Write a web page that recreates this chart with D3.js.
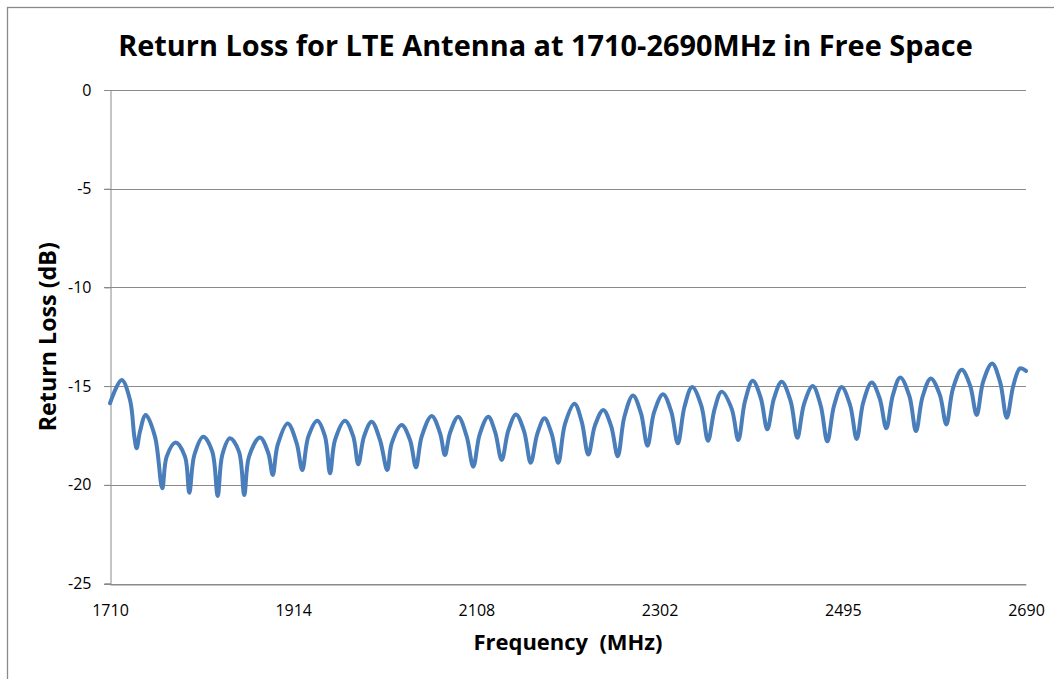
<!DOCTYPE html>
<html>
<head>
<meta charset="utf-8">
<script src="https://cdn.jsdelivr.net/npm/d3@7"></script>
<style>
  html, body { margin: 0; padding: 0; background: #fff; }
  svg { display: block; }
  text { font-family: 'Open Sans', 'Liberation Sans', sans-serif; fill: #000; }
</style>
</head>
<body>
<div id="chart"></div>
<script>
// readings taken off the measured curve (MHz, dB)
const freqMHz = [
  1710, 1723.0, 1732.3, 1737.1, 1739.7, 1743.4, 1749.8, 1760.1, 1768.2, 1773.1,
  1783.2, 1793.5, 1798.3, 1803.9, 1813.9, 1823.9, 1829.9, 1835.0, 1843.6, 1853.6,
  1859.5, 1864.8, 1877.0, 1886.3, 1891.2, 1896.7, 1907.9, 1917.7, 1923.6, 1930.0,
  1939.5, 1947.7, 1953.0, 1958.3, 1968.9, 1977.6, 1982.9, 1989.0, 1997.1, 2005.9,
  2013.6, 2018.3, 2028.9, 2037.7, 2044.0, 2050.1, 2060.7, 2069.5, 2074.7, 2080.0,
  2088.8, 2097.7, 2104.7, 2111.5, 2120.6, 2127.8, 2134.8, 2141.8, 2149.9, 2158.5,
  2165.5, 2172.5, 2180.1, 2187.7, 2194.7, 2201.7, 2211.9, 2219.5, 2226.5, 2233.5,
  2242.4, 2250.7, 2257.7, 2264.7, 2273.8, 2282.2, 2289.2, 2296.2, 2305.6, 2314.2,
  2321.2, 2328.2, 2336.3, 2346.0, 2353.0, 2360.0, 2367.4, 2377.9, 2384.9, 2391.9,
  2400.1, 2408.5, 2415.5, 2422.5, 2430.6, 2440.1, 2447.1, 2454.1, 2463.3, 2471.7,
  2478.7, 2485.7, 2493.8, 2502.8, 2509.8, 2516.8, 2525.8, 2534.3, 2541.3, 2548.3,
  2556.2, 2565.9, 2572.9, 2579.9, 2588.7, 2598.2, 2605.2, 2612.2, 2621.6, 2630.5,
  2637.5, 2644.5, 2654.0, 2662.5, 2669.5, 2676.5, 2683.6, 2690
];
const returnLossDb = [
  -15.87, -14.69, -15.7, -17.56, -18.15, -17.3, -16.46, -17.56, -20.18, -18.57,
  -17.86, -18.57, -20.4, -18.49, -17.56, -18.32, -20.57, -18.49, -17.64, -18.32,
  -20.52, -18.57, -17.6, -18.4, -19.5, -17.98, -16.89, -17.9, -19.25, -17.56,
  -16.75, -17.55, -19.42, -17.73, -16.75, -17.55, -18.96, -17.55, -16.8, -17.73,
  -19.25, -17.9, -16.97, -17.73, -19.11, -17.55, -16.51, -17.38, -18.49, -17.38,
  -16.55, -17.55, -19.08, -17.44, -16.55, -17.32, -18.74, -17.25, -16.44, -17.29,
  -18.88, -17.42, -16.63, -17.42, -18.88, -16.94, -15.9, -16.8, -18.47, -17.0,
  -16.21, -17.03, -18.55, -16.55, -15.47, -16.36, -18.02, -16.32, -15.41, -16.28,
  -17.9, -16.05, -15.05, -16.0, -17.77, -16.15, -15.28, -16.14, -17.73, -15.78,
  -14.73, -15.59, -17.19, -15.62, -14.78, -15.77, -17.62, -15.92, -15.0, -15.98,
  -17.8, -16.01, -15.05, -15.97, -17.68, -15.82, -14.82, -15.63, -17.14, -15.46,
  -14.56, -15.51, -17.28, -15.54, -14.61, -15.43, -16.94, -15.14, -14.17, -14.97,
  -16.46, -14.76, -13.85, -14.81, -16.6, -14.98, -14.1, -14.23
];
const xTickLabels = [1710, 1914, 2108, 2302, 2495, 2690];
const yTicks = [0, -5, -10, -15, -20, -25];

const W = 1054, H = 679;
const plot = { left: 110, right: 1026, top: 90, bottom: 583.5 };
const GRID = '#8a8a8a';
const LINE = '#4a7ebb';

const svg = d3.select('#chart').append('svg')
  .attr('width', W)
  .attr('height', H);

svg.append('rect')
  .attr('width', W).attr('height', H)
  .attr('fill', '#fff');

// chart frame, runs off the right and bottom edge like the original
svg.append('rect')
  .attr('x', 7.5).attr('y', 7.5)
  .attr('width', W + 20).attr('height', H + 20)
  .attr('fill', 'none')
  .attr('stroke', GRID)
  .attr('stroke-width', 1.3);

// category style axis: labels are evenly spaced, so map piecewise
const step = (plot.right - plot.left) / (xTickLabels.length - 1);
const x = d3.scaleLinear()
  .domain(xTickLabels)
  .range(xTickLabels.map((d, i) => plot.left + i * step));

const y = d3.scaleLinear()
  .domain([-25, 0])
  .range([plot.bottom, plot.top]);

// gridlines
svg.append('g')
  .selectAll('line')
  .data(yTicks)
  .join('line')
  .attr('x1', plot.left - 6)
  .attr('x2', plot.right)
  .attr('y1', d => Math.round(y(d)) + 0.5)
  .attr('y2', d => Math.round(y(d)) + 0.5)
  .attr('stroke', GRID)
  .attr('stroke-width', 1);

// y axis
const yAxis = svg.append('g')
  .attr('transform', `translate(${plot.left + 0.5},0)`)
  .call(d3.axisLeft(y)
    .tickValues(yTicks)
    .tickSize(6)
    .tickPadding(13)
    .tickFormat(d => String(d)));
yAxis.select('.domain').attr('stroke', GRID);
yAxis.selectAll('.tick line').attr('stroke', GRID);
yAxis.selectAll('.tick text').style('font-size', '16px');
yAxis.attr('font-family', null);

// x axis
const xAxis = svg.append('g')
  .attr('transform', `translate(0,${Math.round(plot.bottom) + 0.5})`)
  .call(d3.axisBottom(x)
    .tickValues(xTickLabels)
    .tickSize(0)
    .tickPadding(20)
    .tickFormat(d => String(d)));
xAxis.select('.domain').attr('stroke', GRID);
xAxis.selectAll('.tick text').style('font-size', '16px');
xAxis.attr('font-family', null);

// curve
const line = d3.line()
  .x((d, i) => x(freqMHz[i]))
  .y(d => y(d))
  .curve(d3.curveCatmullRom.alpha(0.5));

svg.append('path')
  .datum(returnLossDb)
  .attr('d', line)
  .attr('fill', 'none')
  .attr('stroke', LINE)
  .attr('stroke-width', 4)
  .attr('stroke-linejoin', 'round')
  .attr('stroke-linecap', 'round');

// size a bold label so it spans the same width as in the original
function fitText(sel, targetWidth) {
  const base = 30;
  sel.style('font-size', base + 'px');
  const w = sel.node().getComputedTextLength();
  sel.style('font-size', (base * targetWidth / w).toFixed(2) + 'px');
  return sel;
}

const title = svg.append('text')
  .attr('x', 545.5)
  .attr('y', 56)
  .attr('text-anchor', 'middle')
  .style('font-weight', 'bold')
  .text('Return Loss for LTE Antenna at 1710-2690MHz in Free Space');
fitText(title, 855);

const xTitle = svg.append('text')
  .attr('x', (plot.left + plot.right) / 2)
  .attr('y', 650)
  .attr('text-anchor', 'middle')
  .style('font-weight', 'bold')
  .style('white-space', 'pre')
  .text('Frequency  (MHz)');
fitText(xTitle, 189);

const yTitle = svg.append('text')
  .attr('transform', `translate(56,${(plot.top + plot.bottom) / 2}) rotate(-90)`)
  .attr('text-anchor', 'middle')
  .style('font-weight', 'bold')
  .text('Return Loss (dB)');
fitText(yTitle, 189);
</script>
</body>
</html>
